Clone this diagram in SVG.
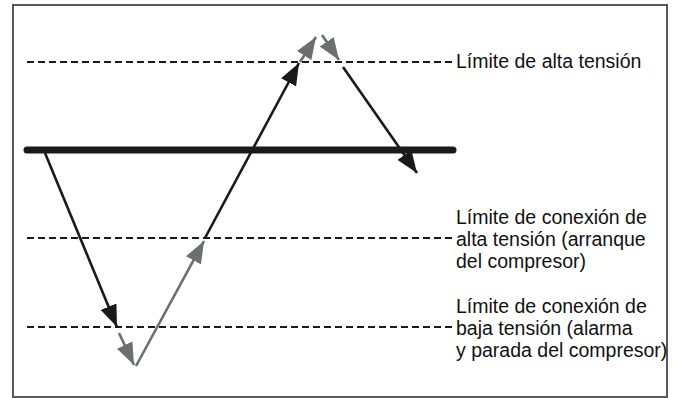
<svg xmlns="http://www.w3.org/2000/svg" width="680" height="398" viewBox="0 0 680 398">
<defs>
<style>
.lbl{font-family:"Liberation Sans",Arial,sans-serif;font-size:19.5px;fill:#111}
.dash{stroke:#1a1a1a;stroke-width:2.2;stroke-dasharray:7 4;fill:none}
.blk{stroke:#1a1a1a;stroke-width:2.6;fill:none}
.gry{stroke:#6d6e70;stroke-width:2.6;fill:none}
</style>
<marker id="ab" viewBox="0 0 22 17" refX="22" refY="8.5" markerWidth="22" markerHeight="17" markerUnits="userSpaceOnUse" orient="auto"><path d="M0,0 L22,8.5 L0,17 Z" fill="#1a1a1a"/></marker>
<marker id="ag" viewBox="0 0 22 17" refX="22" refY="8.5" markerWidth="22" markerHeight="17" markerUnits="userSpaceOnUse" orient="auto"><path d="M0,0 L22,8.5 L0,17 Z" fill="#6d6e70"/></marker>
</defs>
<rect x="13" y="5" width="654" height="392" fill="#fff" stroke="#58595b" stroke-width="2"/>
<g id="levels">
<line class="dash" x1="27" y1="62" x2="453" y2="62"/>
<line class="dash" x1="27" y1="238" x2="453" y2="238"/>
<line class="dash" x1="27" y1="327" x2="453" y2="327"/>
<line x1="27" y1="150" x2="453" y2="150" stroke="#1a1a1a" stroke-width="7" stroke-linecap="round"/>
</g>
<g id="connectors">
<line class="blk" x1="45" y1="153" x2="117" y2="327" marker-end="url(#ab)"/>
<line class="gry" x1="119" y1="333" x2="134" y2="365" marker-end="url(#ag)"/>
<line class="gry" x1="136" y1="366" x2="204" y2="241" marker-end="url(#ag)"/>
<line class="blk" x1="205" y1="238" x2="299" y2="63" marker-end="url(#ab)"/>
<line class="gry" x1="300" y1="62" x2="316" y2="37" marker-end="url(#ag)"/>
<line class="gry" x1="322" y1="35" x2="339" y2="60" marker-end="url(#ag)"/>
<line class="blk" x1="343" y1="67" x2="417" y2="173" marker-end="url(#ab)"/>
</g>
<g id="label-high">
<text class="lbl" x="456" y="68">Límite de alta tensión</text>
</g>
<g id="label-start">
<text class="lbl" x="456" y="224">Límite de conexión de</text>
<text class="lbl" x="456" y="246">alta tensión (arranque</text>
<text class="lbl" x="456" y="268">del compresor)</text>
</g>
<g id="label-low">
<text class="lbl" x="456" y="313">Límite de conexión de</text>
<text class="lbl" x="456" y="335">baja tensión (alarma</text>
<text class="lbl" x="456" y="357">y parada del compresor)</text>
</g>
</svg>
